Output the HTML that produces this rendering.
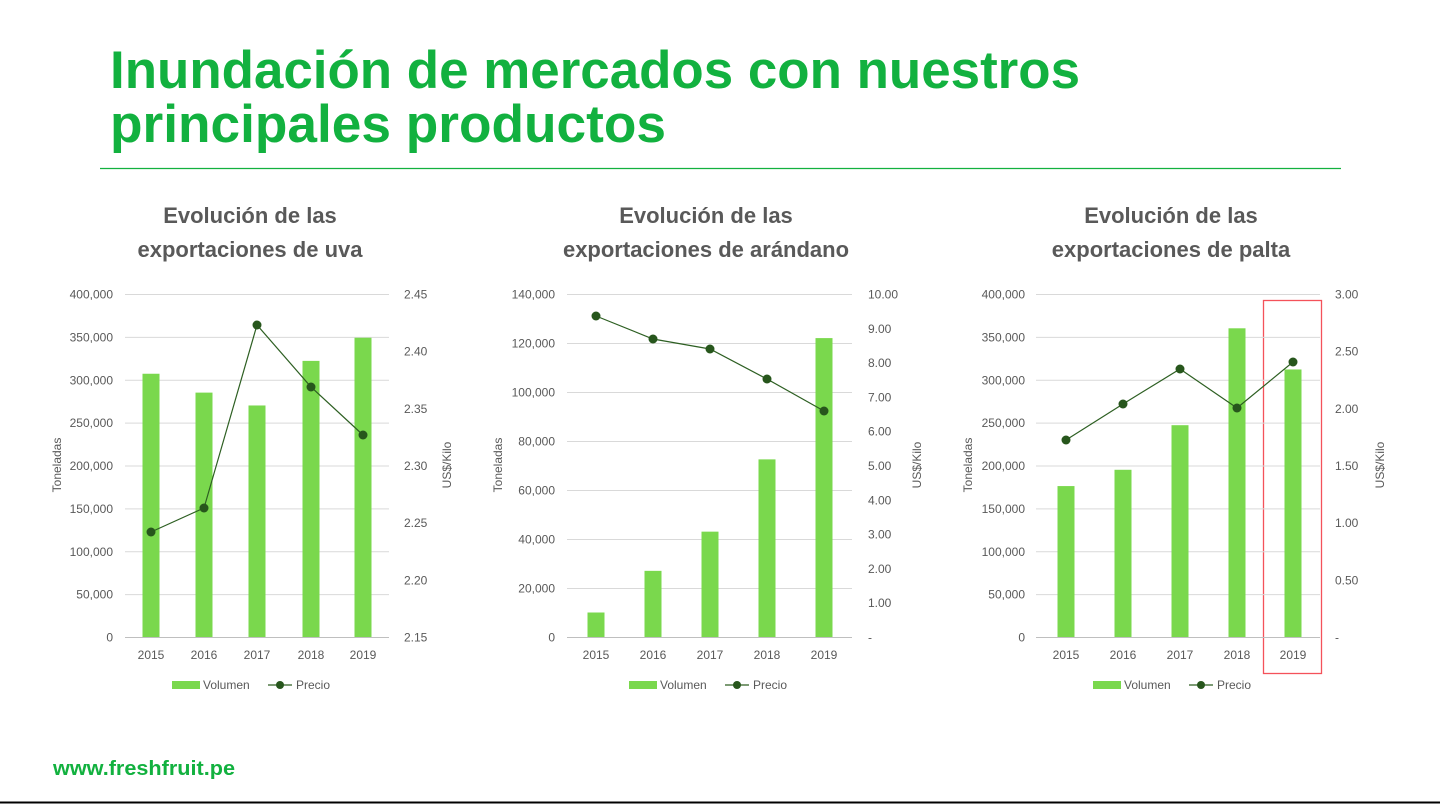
<!DOCTYPE html>
<html><head><meta charset="utf-8"><style>
html,body{margin:0;padding:0;background:#fff;}
svg{display:block;font-family:"Liberation Sans",sans-serif;}
</style></head><body>
<svg id="s" width="1440" height="804" viewBox="0 0 1440 804" xmlns="http://www.w3.org/2000/svg">
<text x="110" y="88" font-size="53" font-weight="bold" fill="#12b13f" textLength="970" lengthAdjust="spacingAndGlyphs">Inundación de mercados con nuestros</text>
<text x="110" y="142" font-size="53" font-weight="bold" fill="#12b13f" textLength="556" lengthAdjust="spacingAndGlyphs">principales productos</text>
<line x1="100" y1="168.5" x2="1341" y2="168.5" stroke="#12b13f" stroke-width="1.2"/>
<text x="53" y="775" font-size="20" font-weight="bold" fill="#12b13f" textLength="182" lengthAdjust="spacingAndGlyphs">www.freshfruit.pe</text>
<line x1="0" y1="802.5" x2="1440" y2="802.5" stroke="#000" stroke-width="2"/>
<rect x="1263.5" y="300.5" width="58" height="373" fill="none" stroke="#f4525a" stroke-width="1.3"/>
<g id="charts"></g>
</svg>
<script>
(function(){
var g=document.getElementById('charts');var h='';
var charts=[
 {t1:'Evolución de las',t2:'exportaciones de uva',cx:250,gx1:125,gx2:389,ll:113,rl:404,ta:57,tb:447,
  left:['0','50,000','100,000','150,000','200,000','250,000','300,000','350,000','400,000'],
  right:['2.15','2.20','2.25','2.30','2.35','2.40','2.45'],
  cats:[151,204,257,311,363],bars:[307,285,270,322,349],max:400,
  pts:[532,508,325,387,435],leg:172},
 {t1:'Evolución de las',t2:'exportaciones de arándano',cx:706,gx1:567,gx2:852,ll:555,rl:868,ta:498,tb:917,
  left:['0','20,000','40,000','60,000','80,000','100,000','120,000','140,000'],
  right:['-','1.00','2.00','3.00','4.00','5.00','6.00','7.00','8.00','9.00','10.00'],
  cats:[596,653,710,767,824],bars:[10,27,43,72.5,122],max:140,
  pts:[316,339,349,379,411],leg:629},
 {t1:'Evolución de las',t2:'exportaciones de palta',cx:1171,gx1:1036,gx2:1320,ll:1025,rl:1335,ta:968,tb:1380,
  left:['0','50,000','100,000','150,000','200,000','250,000','300,000','350,000','400,000'],
  right:['-','0.50','1.00','1.50','2.00','2.50','3.00'],
  cats:[1066,1123,1180,1237,1293],bars:[176,195,247,360,312],max:400,
  pts:[440,404,369,408,362],leg:1093}
];
var T0=294,bot=637,H=bot-T0,tc='#595959';
charts.forEach(function(c){
 h+='<text x="'+c.cx+'" y="223" font-size="22" font-weight="bold" fill="'+tc+'" text-anchor="middle">'+c.t1+'</text>';
 h+='<text x="'+c.cx+'" y="257" font-size="22" font-weight="bold" fill="'+tc+'" text-anchor="middle">'+c.t2+'</text>';
 var n=c.left.length-1;
 c.left.forEach(function(l,i){var y=bot-H*i/n;
  h+='<line x1="'+c.gx1+'" x2="'+c.gx2+'" y1="'+(y+0.5)+'" y2="'+(y+0.5)+'" stroke="'+(i==0?'#bfbfbf':'#d9d9d9')+'" stroke-width="1"/>';
  h+='<text x="'+c.ll+'" y="'+(y+4.5)+'" font-size="12" fill="'+tc+'" text-anchor="end">'+l+'</text>';});
 var m=c.right.length-1;
 c.right.forEach(function(l,i){var y=bot-H*i/m;
  h+='<text x="'+c.rl+'" y="'+(y+4.5)+'" font-size="12" fill="'+tc+'">'+l+'</text>';});
 h+='<text transform="translate('+(c.ta+4)+',465) rotate(-90)" font-size="12" fill="'+tc+'" text-anchor="middle">Toneladas</text>';
 h+='<text transform="translate('+(c.tb+4)+',465) rotate(-90)" font-size="12" fill="'+tc+'" text-anchor="middle">US$/Kilo</text>';
 c.cats.forEach(function(x,i){var y=bot-H*c.bars[i]/c.max;
  h+='<rect x="'+(x-8.5)+'" y="'+y+'" width="17" height="'+(bot-y)+'" fill="#7ad84d"/>';
  h+='<text x="'+x+'" y="659" font-size="12" fill="'+tc+'" text-anchor="middle">'+(2015+i)+'</text>';});
 h+='<polyline points="'+c.cats.map(function(x,i){return x+','+c.pts[i];}).join(' ')+'" fill="none" stroke="#2d5f22" stroke-width="1.2"/>';
 c.cats.forEach(function(x,i){h+='<circle cx="'+x+'" cy="'+c.pts[i]+'" r="4.5" fill="#27561c"/>';});
 var L=c.leg;
 h+='<rect x="'+L+'" y="681" width="28" height="8" fill="#7ad84d"/><text x="'+(L+31)+'" y="689" font-size="12" fill="'+tc+'">Volumen</text>';
 h+='<line x1="'+(L+96)+'" x2="'+(L+120)+'" y1="685" y2="685" stroke="#2d5f22" stroke-width="1.2"/><circle cx="'+(L+108)+'" cy="685" r="4" fill="#27561c"/><text x="'+(L+124)+'" y="689" font-size="12" fill="'+tc+'">Precio</text>';
});
g.innerHTML=h;
})();
</script>
</body></html>
